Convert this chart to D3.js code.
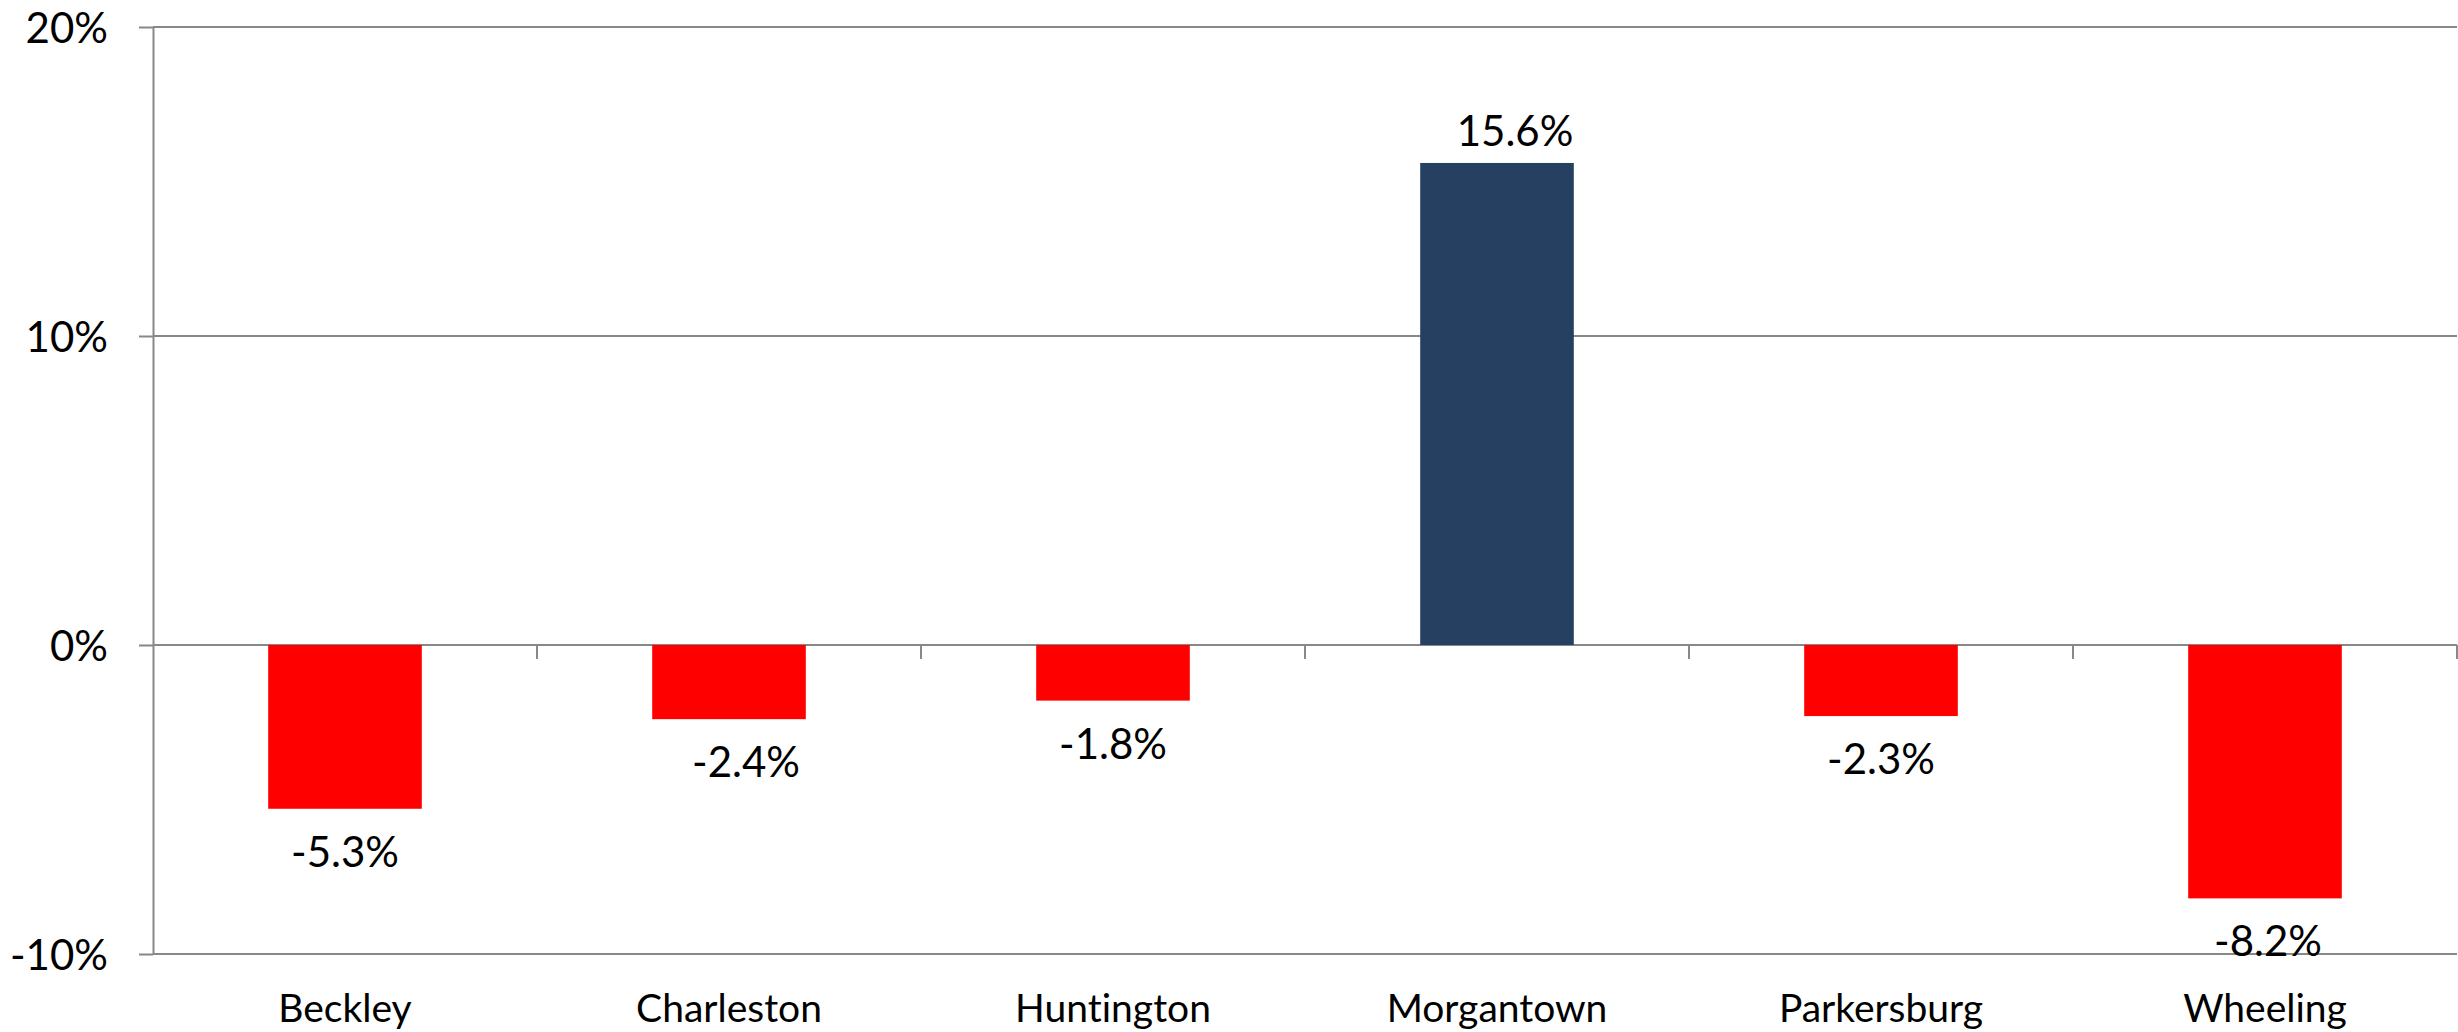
<!DOCTYPE html>
<html>
<head>
<meta charset="utf-8">
<script src="https://cdn.jsdelivr.net/npm/d3@7/dist/d3.min.js"></script>
<style>
  html, body { margin: 0; padding: 0; background: #ffffff; }
  svg { display: block; }
  text { font-family: Lato, "Open Sans", sans-serif; fill: #000; font-variant-ligatures: none; font-feature-settings: "liga" 0, "clig" 0; }
</style>
</head>
<body>
<svg id="chart" width="2458" height="1032"></svg>
<script>
// ---- data ----
const categories = ["Beckley", "Charleston", "Huntington", "Morgantown", "Parkersburg", "Wheeling"];
const values = [-0.053, -0.024, -0.018, 0.156, -0.023, -0.082];
const yTicks = [-0.1, 0, 0.1, 0.2];
const yTickLabels = ["-10%", "0%", "10%", "20%"];
const valueLabels = ["-5.3%", "-2.4%", "-1.8%", "15.6%", "-2.3%", "-8.2%"];
// label nudges (px), as placed in the original
const labelNudge = [0, 17, 0, 18, 0, 3];

// ---- layout ----
const plotLeft = 153, plotRight = 2457, plotTop = 27, plotBottom = 954;
const fontSize = 39;
const gridColor = "#888888";
const posColor = "#264061", negColor = "#FF0000";

const svg = d3.select("#chart");

const x = d3.scaleBand().domain(categories).range([plotLeft, plotRight])
  .paddingInner(0.6).paddingOuter(0.3);
const y = d3.scaleLinear().domain([-0.1, 0.2]).range([plotBottom, plotTop]);

// gridlines
svg.append("g").selectAll("line").data(yTicks).join("line")
  .attr("x1", plotLeft).attr("x2", plotRight)
  .attr("y1", d => y(d)).attr("y2", d => y(d))
  .attr("stroke", gridColor).attr("stroke-width", 2);

// left axis
const yAxis = d3.axisLeft(y).tickValues(yTicks)
  .tickFormat((d, i) => yTickLabels[i])
  .tickSizeInner(14).tickSizeOuter(0).tickPadding(31);
const gy = svg.append("g").attr("transform", `translate(${plotLeft},0)`).call(yAxis);
gy.select(".domain").attr("stroke", gridColor).attr("stroke-width", 2);
gy.selectAll(".tick line").attr("stroke", gridColor).attr("stroke-width", 2);
gy.selectAll(".tick text")
  .attr("font-family", "Lato, 'Open Sans', sans-serif")
  .attr("font-size", 42).attr("fill", "#000").attr("dy", "0.36em");

// category separator ticks on zero line
const step = x.step();
const seps = d3.range(1, categories.length + 1).map(i => plotLeft + i * step);
svg.append("g").selectAll("line").data(seps).join("line")
  .attr("x1", d => d).attr("x2", d => d)
  .attr("y1", y(0)).attr("y2", y(0) + 14)
  .attr("stroke", gridColor).attr("stroke-width", 2);

// bars
svg.append("g").selectAll("rect").data(values).join("rect")
  .attr("x", (d, i) => x(categories[i]))
  .attr("width", x.bandwidth())
  .attr("y", d => d >= 0 ? y(d) : y(0))
  .attr("height", d => Math.abs(y(d) - y(0)))
  .attr("fill", d => d >= 0 ? posColor : negColor);

// value labels
svg.append("g").selectAll("text").data(values).join("text")
  .attr("x", (d, i) => x(categories[i]) + x.bandwidth() / 2 + labelNudge[i])
  .attr("y", d => d >= 0 ? y(d) - 17 : y(d) + 58)
  .attr("text-anchor", "middle")
  .attr("font-size", 42)
  .text((d, i) => valueLabels[i]);

// category axis labels
const xAxis = d3.axisBottom(x).tickSize(0).tickPadding(0);
const gx = svg.append("g").attr("transform", `translate(0,${plotBottom})`).call(xAxis);
gx.select(".domain").remove();
gx.selectAll(".tick text")
  .attr("font-family", "Lato, 'Open Sans', sans-serif")
  .attr("font-size", fontSize).attr("fill", "#000")
  .attr("y", 68).attr("dy", 0);
</script>
</body>
</html>
